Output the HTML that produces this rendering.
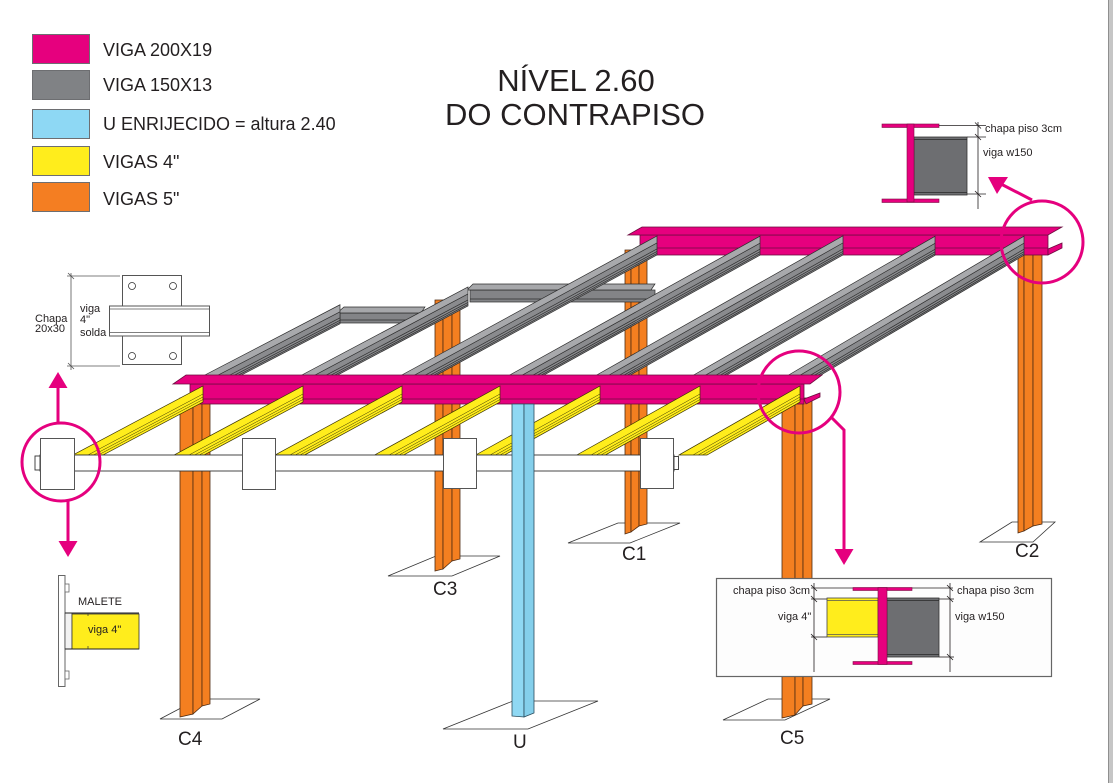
<!DOCTYPE html>
<html><head><meta charset="utf-8">
<style>
html,body{margin:0;padding:0;background:#fff;}
svg{display:block;}
text{font-family:"Liberation Sans",Arial,sans-serif;fill:#231f20;}
.ns{vector-effect:non-scaling-stroke;}
</style></head><body>
<svg width="1113" height="783" viewBox="0 0 1113 783" xmlns="http://www.w3.org/2000/svg">
<rect width="1113" height="783" fill="#fff"/>
<rect x="1108" y="0" width="5" height="783" fill="#c6c6c6"/>
<line x1="1108.5" y1="0" x2="1108.5" y2="783" stroke="#8f8f8f"/>

<!-- Legend -->
<g stroke="#6d6e71" stroke-width="1">
<rect x="32.5" y="34.5" width="57" height="29" fill="#e6007e"/>
<rect x="32.5" y="70.5" width="57" height="29" fill="#808285"/>
<rect x="32.5" y="109.5" width="57" height="29" fill="#8ed8f4"/>
<rect x="32.5" y="146.5" width="57" height="29" fill="#ffed1c"/>
<rect x="32.5" y="182.5" width="57" height="29" fill="#f47e22"/>
</g>
<g font-size="18">
<text x="103" y="56">VIGA 200X19</text>
<text x="103" y="91">VIGA 150X13</text>
<text x="103" y="130">U ENRIJECIDO = altura 2.40</text>
<text x="103" y="168">VIGAS 4&quot;</text>
<text x="103" y="205">VIGAS 5&quot;</text>
</g>

<!-- Title -->
<g font-size="31" text-anchor="middle">
<text x="576" y="91">NÍVEL 2.60</text>
<text x="575" y="125">DO CONTRAPISO</text>
</g>

<!-- Base plates -->
<g fill="#fff" stroke="#333" stroke-width="0.8">
<polygon points="160,719 222,719 260,699 198,699"/>
<polygon points="388,576 452,576 500,556 436,556"/>
<polygon points="568,543 630,543 680,523 618,523"/>
<polygon points="443,729 528,729 598,701 513,701"/>
<polygon points="723,720 785,720 830,699 768,699"/>
<polygon points="980,542 1033,542 1055,522 1012,522"/>
</g>

<!-- Rear columns C1, C2, C3 -->
<g fill="#f47f20" stroke="#4d2b12" stroke-width="0.8">
<polygon points="625,250 631,250 631,532 625,534"/>
<polygon points="631,250 639,250 639,526 631,532"/>
<polygon points="639,250 647,250 647,524 639,526"/>
<polygon points="1018,250 1024,250 1024,531 1018,533"/>
<polygon points="1024,250 1033,250 1033,526 1024,531"/>
<polygon points="1033,250 1042,250 1042,524 1033,526"/>
<polygon points="435,300 443,300 443,569 435,571"/>
<polygon points="443,300 452,300 452,561 443,569"/>
<polygon points="452,300 460,300 460,559 452,561"/>
</g>

<!-- Back pink beam -->
<g fill="#e6007e" stroke="#6b0d3f" stroke-width="0.8">
<rect x="640" y="235" width="408" height="20"/>
<line x1="640" y1="248" x2="1048" y2="248"/>
<polygon points="642,227 1062,227 1048,235 628,235"/>
<polygon points="1048,249 1062,243 1062,248 1048,255"/>
</g>

<!-- Horizontal gray beams at rear -->
<g stroke="#2d2d2d" stroke-width="0.7">
<rect x="340" y="313" width="85" height="10" fill="#838487"/>
<line x1="340" y1="320" x2="425" y2="320"/>
<polygon points="344,307 425,307 421,313 337,313" fill="#a6a7aa"/>
<rect x="470" y="290" width="185" height="12" fill="#838487"/>
<line x1="470" y1="299" x2="655" y2="299"/>
<polygon points="473,284 655,284 651,290 467,290" fill="#a6a7aa"/>
</g>

<!-- Gray diagonal beams -->
<g stroke="#2d2d2d" stroke-width="0.7">
<g transform="matrix(1,-0.52,0,1,203,376)">
 <polygon class="ns" points="0,0 137,0 137,19 36.5,19" fill="#8a8b8e" stroke="none"/>
 <polygon class="ns" points="0,0 137,0 137,7 13.5,7" fill="#a8a9ac" stroke="none"/>
 <line class="ns" x1="13.5" y1="7" x2="137" y2="7"/><line class="ns" x1="25" y1="13" x2="137" y2="13"/><line class="ns" x1="29.8" y1="15.5" x2="137" y2="15.5"/><line class="ns" x1="33.7" y1="17.5" x2="137" y2="17.5"/>
 <polygon class="ns" points="0,0 137,0 137,19 36.5,19" fill="none"/>
</g>
<g transform="matrix(1,-0.53,0,1,300,376)">
 <polygon class="ns" points="0,0 168,0 168,19 35.8,19" fill="#8a8b8e" stroke="none"/>
 <polygon class="ns" points="0,0 168,0 168,7 13.2,7" fill="#a8a9ac" stroke="none"/>
 <line class="ns" x1="13.2" y1="7" x2="168" y2="7"/><line class="ns" x1="24.5" y1="13" x2="168" y2="13"/><line class="ns" x1="29.2" y1="15.5" x2="168" y2="15.5"/><line class="ns" x1="33" y1="17.5" x2="168" y2="17.5"/>
 <polygon class="ns" points="0,0 168,0 168,19 35.8,19" fill="none"/>
</g>
<g transform="matrix(1,-0.545,0,1,400,376)">
 <polygon class="ns" points="0,0 257,0 257,19 34.9,19" fill="#8a8b8e" stroke="none"/>
 <polygon class="ns" points="0,0 257,0 257,7 12.8,7" fill="#a8a9ac" stroke="none"/>
 <line class="ns" x1="12.8" y1="7" x2="257" y2="7"/><line class="ns" x1="23.9" y1="13" x2="257" y2="13"/><line class="ns" x1="28.4" y1="15.5" x2="257" y2="15.5"/><line class="ns" x1="32.1" y1="17.5" x2="257" y2="17.5"/>
 <polygon class="ns" points="0,0 257,0 257,19 34.9,19" fill="none"/>
</g>
<g transform="matrix(1,-0.555,0,1,508,376)">
 <polygon class="ns" points="0,0 252,0 252,19 34.2,19" fill="#8a8b8e" stroke="none"/>
 <polygon class="ns" points="0,0 252,0 252,7 12.6,7" fill="#a8a9ac" stroke="none"/>
 <line class="ns" x1="12.6" y1="7" x2="252" y2="7"/><line class="ns" x1="23.4" y1="13" x2="252" y2="13"/><line class="ns" x1="27.9" y1="15.5" x2="252" y2="15.5"/><line class="ns" x1="31.5" y1="17.5" x2="252" y2="17.5"/>
 <polygon class="ns" points="0,0 252,0 252,19 34.2,19" fill="none"/>
</g>
<g transform="matrix(1,-0.565,0,1,595,376)">
 <polygon class="ns" points="0,0 248,0 248,19 33.6,19" fill="#8a8b8e" stroke="none"/>
 <polygon class="ns" points="0,0 248,0 248,7 12.4,7" fill="#a8a9ac" stroke="none"/>
 <line class="ns" x1="12.4" y1="7" x2="248" y2="7"/><line class="ns" x1="23" y1="13" x2="248" y2="13"/><line class="ns" x1="27.4" y1="15.5" x2="248" y2="15.5"/><line class="ns" x1="31" y1="17.5" x2="248" y2="17.5"/>
 <polygon class="ns" points="0,0 248,0 248,19 33.6,19" fill="none"/>
</g>
<g transform="matrix(1,-0.575,0,1,692,376)">
 <polygon class="ns" points="0,0 243,0 243,19 33,19" fill="#8a8b8e" stroke="none"/>
 <polygon class="ns" points="0,0 243,0 243,7 12.2,7" fill="#a8a9ac" stroke="none"/>
 <line class="ns" x1="12.2" y1="7" x2="243" y2="7"/><line class="ns" x1="22.6" y1="13" x2="243" y2="13"/><line class="ns" x1="27" y1="15.5" x2="243" y2="15.5"/><line class="ns" x1="30.4" y1="17.5" x2="243" y2="17.5"/>
 <polygon class="ns" points="0,0 243,0 243,19 33,19" fill="none"/>
</g>
<g transform="matrix(1,-0.59,0,1,787,376)">
 <polygon class="ns" points="0,0 237,0 237,19 32.2,19" fill="#8a8b8e" stroke="none"/>
 <polygon class="ns" points="0,0 237,0 237,7 11.9,7" fill="#a8a9ac" stroke="none"/>
 <line class="ns" x1="11.9" y1="7" x2="237" y2="7"/><line class="ns" x1="22" y1="13" x2="237" y2="13"/><line class="ns" x1="26.3" y1="15.5" x2="237" y2="15.5"/><line class="ns" x1="29.7" y1="17.5" x2="237" y2="17.5"/>
 <polygon class="ns" points="0,0 237,0 237,19 32.2,19" fill="none"/>
</g>
</g>

<!-- Front columns C4, C5 -->
<g fill="#f47f20" stroke="#4d2b12" stroke-width="0.8">
<polygon points="180,398 193,398 193,714 180,717"/>
<polygon points="193,398 202,398 202,706 193,714"/>
<polygon points="202,398 210,398 210,704 202,706"/>
<polygon points="782,398 795,398 795,715 782,718"/>
<polygon points="795,398 803,398 803,706 795,715"/>
<polygon points="803,398 812,398 812,704 803,706"/>
</g>

<!-- Front pink beam web -->
<g fill="#e6007e" stroke="#6b0d3f" stroke-width="0.8">
<rect x="190" y="384" width="614" height="20"/>
<line x1="190" y1="399" x2="804" y2="399"/>
<polygon points="804,399 820,393 820,397 806,404"/>
</g>

<!-- Yellow beams -->
<g stroke="#3a3300" stroke-width="0.7" fill="#ffed1c">
<g transform="matrix(1,-0.53,0,1,203,386)">
 <polygon class="ns" points="0,0 0,16 -100,16 -130.2,0"/>
 <line class="ns" x1="-115.1" y1="8" x2="0" y2="8" stroke-width="0.5"/><line class="ns" x1="-109.4" y1="11" x2="0" y2="11" stroke-width="0.5"/><line class="ns" x1="-104.7" y1="13.5" x2="0" y2="13.5" stroke-width="0.5"/>
</g>
<g transform="matrix(1,-0.535,0,1,303,386)">
 <polygon class="ns" points="0,0 0,16 -99.1,16 -129,0"/>
 <line class="ns" x1="-114" y1="8" x2="0" y2="8" stroke-width="0.5"/><line class="ns" x1="-108.4" y1="11" x2="0" y2="11" stroke-width="0.5"/><line class="ns" x1="-103.7" y1="13.5" x2="0" y2="13.5" stroke-width="0.5"/>
</g>
<g transform="matrix(1,-0.544,0,1,402,386)">
 <polygon class="ns" points="0,0 0,16 -97.4,16 -126.8,0"/>
 <line class="ns" x1="-112.1" y1="8" x2="0" y2="8" stroke-width="0.5"/><line class="ns" x1="-106.6" y1="11" x2="0" y2="11" stroke-width="0.5"/><line class="ns" x1="-102" y1="13.5" x2="0" y2="13.5" stroke-width="0.5"/>
</g>
<g transform="matrix(1,-0.55,0,1,500,386)">
 <polygon class="ns" points="0,0 0,16 -96.4,16 -125.5,0"/>
 <line class="ns" x1="-110.9" y1="8" x2="0" y2="8" stroke-width="0.5"/><line class="ns" x1="-105.5" y1="11" x2="0" y2="11" stroke-width="0.5"/><line class="ns" x1="-100.9" y1="13.5" x2="0" y2="13.5" stroke-width="0.5"/>
</g>
<g transform="matrix(1,-0.555,0,1,600,386)">
 <polygon class="ns" points="0,0 0,16 -95.5,16 -124.3,0"/>
 <line class="ns" x1="-109.9" y1="8" x2="0" y2="8" stroke-width="0.5"/><line class="ns" x1="-104.5" y1="11" x2="0" y2="11" stroke-width="0.5"/><line class="ns" x1="-100" y1="13.5" x2="0" y2="13.5" stroke-width="0.5"/>
</g>
<g transform="matrix(1,-0.56,0,1,700,386)">
 <polygon class="ns" points="0,0 0,16 -94.6,16 -123.2,0"/>
 <line class="ns" x1="-108.9" y1="8" x2="0" y2="8" stroke-width="0.5"/><line class="ns" x1="-103.6" y1="11" x2="0" y2="11" stroke-width="0.5"/><line class="ns" x1="-99.1" y1="13.5" x2="0" y2="13.5" stroke-width="0.5"/>
</g>
<g transform="matrix(1,-0.57,0,1,800,386)">
 <polygon class="ns" points="0,0 0,16 -93,16 -121.1,0"/>
 <line class="ns" x1="-107" y1="8" x2="0" y2="8" stroke-width="0.5"/><line class="ns" x1="-101.8" y1="11" x2="0" y2="11" stroke-width="0.5"/><line class="ns" x1="-97.4" y1="13.5" x2="0" y2="13.5" stroke-width="0.5"/>
</g>
</g>

<!-- Front beam top flange -->
<polygon points="186,375 822,375 810,384 173,384" fill="#e6007e" stroke="#6b0d3f" stroke-width="0.8"/>

<!-- White tube + brackets -->
<g fill="#fff" stroke="#333" stroke-width="0.9">
<rect x="35" y="456" width="6" height="14"/>
<rect x="40" y="455" width="634" height="16"/>
<rect x="674" y="456.5" width="4.5" height="13"/>
</g>
<g fill="#fff" stroke="#555" stroke-width="1">
<rect x="40.5" y="438.5" width="34" height="51"/>
<rect x="242.5" y="438.5" width="33" height="51"/>
<rect x="443.5" y="438.5" width="33" height="50"/>
<rect x="640.5" y="438.5" width="33" height="50"/>
</g>

<!-- U column -->
<g stroke="#2b4c5c" stroke-width="0.8">
<polygon points="512,404 524,404 524,717 512,716" fill="#8fd8f3"/>
<polygon points="524,404 534,404 534,713 524,717" fill="#84cfeb"/>
</g>

<!-- Column labels -->
<g font-size="19">
<text x="178" y="745">C4</text>
<text x="433" y="595">C3</text>
<text x="622" y="560">C1</text>
<text x="513" y="748">U</text>
<text x="780" y="744">C5</text>
<text x="1015" y="557">C2</text>
</g>

<!-- Bottom-right detail box -->
<rect x="716.5" y="578.5" width="335" height="98" fill="#fdfdfd" stroke="#666" stroke-width="1.2"/>
<g stroke="#231f20" stroke-width="0.8">
<line x1="814" y1="583" x2="814" y2="672"/>
<line x1="950" y1="583" x2="950" y2="672"/>
<line x1="811" y1="588" x2="953" y2="588"/>
<line x1="811" y1="599" x2="827" y2="599"/>
<line x1="939" y1="599" x2="954" y2="599"/>
<line x1="811" y1="637" x2="827" y2="637"/>
<line x1="939" y1="657" x2="954" y2="657"/>
<line x1="811" y1="585" x2="817" y2="591"/>
<line x1="811" y1="596" x2="817" y2="602"/>
<line x1="811" y1="634" x2="817" y2="640"/>
<line x1="947" y1="585" x2="953" y2="591"/>
<line x1="947" y1="596" x2="953" y2="602"/>
<line x1="947" y1="654" x2="953" y2="660"/>
</g>
<rect x="827" y="598" width="51" height="39" fill="#ffed1c" stroke="#444" stroke-width="0.8"/>
<line x1="827" y1="600.5" x2="878" y2="600.5" stroke="#555" stroke-width="0.7"/>
<line x1="827" y1="634.5" x2="878" y2="634.5" stroke="#555" stroke-width="0.7"/>
<rect x="887" y="598" width="52" height="59" fill="#6d6e71" stroke="#333" stroke-width="0.8"/>
<line x1="887" y1="600.5" x2="939" y2="600.5" stroke="#2a2a2a" stroke-width="0.8"/>
<line x1="887" y1="654.5" x2="939" y2="654.5" stroke="#2a2a2a" stroke-width="0.8"/>
<g fill="#e6007e" stroke="#7a0d44" stroke-width="0.6">
<rect x="853" y="587.5" width="59" height="3"/>
<rect x="853" y="661.5" width="59" height="3"/>
<rect x="878" y="587.5" width="9" height="77"/>
</g>
<g font-size="11">
<text x="733" y="594">chapa piso 3cm</text>
<text x="778" y="620">viga 4&quot;</text>
<text x="957" y="594">chapa piso 3cm</text>
<text x="955" y="620">viga w150</text>
</g>

<!-- Top-right detail -->
<rect x="914" y="137" width="53" height="58" fill="#6d6e71" stroke="#333" stroke-width="0.8"/>
<line x1="914" y1="139.5" x2="967" y2="139.5" stroke="#2a2a2a" stroke-width="0.8"/>
<line x1="914" y1="192.5" x2="967" y2="192.5" stroke="#2a2a2a" stroke-width="0.8"/>
<g fill="#e6007e" stroke="#7a0d44" stroke-width="0.6">
<rect x="882" y="124" width="57" height="3.5"/>
<rect x="882" y="199" width="57" height="3.5"/>
<rect x="907" y="124" width="7" height="78"/>
</g>
<g stroke="#231f20" stroke-width="0.8">
<line x1="978" y1="122" x2="978" y2="209"/>
<line x1="939" y1="125.5" x2="986" y2="125.5"/>
<line x1="967" y1="137" x2="986" y2="137"/>
<line x1="967" y1="194" x2="986" y2="194"/>
<line x1="975" y1="122.5" x2="981" y2="128.5"/>
<line x1="975" y1="134" x2="981" y2="140"/>
<line x1="975" y1="191" x2="981" y2="197"/>
</g>
<g font-size="11">
<text x="985" y="132">chapa piso 3cm</text>
<text x="983" y="156">viga w150</text>
</g>

<!-- Left detail (Chapa 20x30) -->
<rect x="122.5" y="275.5" width="59" height="89" fill="#fff" stroke="#555" stroke-width="1"/>
<g fill="none" stroke="#333" stroke-width="0.8">
<circle cx="132" cy="286" r="3.5"/>
<circle cx="173" cy="286" r="3.5"/>
<circle cx="132" cy="356" r="3.5"/>
<circle cx="173" cy="356" r="3.5"/>
</g>
<rect x="109.5" y="306" width="100" height="30" fill="#fff" stroke="#555" stroke-width="1"/>
<line x1="109.5" y1="309" x2="209.5" y2="309" stroke="#555" stroke-width="0.8"/>
<line x1="109.5" y1="332.5" x2="209.5" y2="332.5" stroke="#555" stroke-width="0.8"/>
<g stroke="#555" stroke-width="0.8">
<line x1="71" y1="273" x2="71" y2="370"/>
<line x1="67" y1="276" x2="120" y2="276"/>
<line x1="67" y1="366" x2="120" y2="366"/>
<line x1="68" y1="273" x2="74" y2="279"/>
<line x1="68" y1="363" x2="74" y2="369"/>
</g>
<g font-size="11" fill="#333">
<text x="35" y="322">Chapa</text>
<text x="35" y="332">20x30</text>
<text x="80" y="312">viga</text>
<text x="80" y="323">4&quot;</text>
<text x="80" y="336">solda</text>
</g>

<!-- MALETE detail -->
<rect x="58.5" y="575.5" width="6.5" height="111" fill="#fff" stroke="#666" stroke-width="1"/>
<rect x="65" y="584" width="4" height="8" fill="#fff" stroke="#666" stroke-width="0.8"/>
<rect x="65" y="671" width="4" height="8" fill="#fff" stroke="#666" stroke-width="0.8"/>
<rect x="65" y="613" width="7" height="36" fill="#f2f2f2" stroke="#444" stroke-width="0.8"/>
<rect x="72" y="614" width="67" height="35" fill="#ffed1c" stroke="#333" stroke-width="0.8"/>
<line x1="65" y1="613" x2="139" y2="613" stroke="#222" stroke-width="0.9"/>
<line x1="65" y1="649" x2="139" y2="649" stroke="#222" stroke-width="0.9"/>
<line x1="88" y1="613" x2="88" y2="616" stroke="#333" stroke-width="0.7"/>
<line x1="88" y1="646" x2="88" y2="649" stroke="#333" stroke-width="0.7"/>
<text x="78" y="605" font-size="11" fill="#333">MALETE</text>
<text x="88" y="633" font-size="11">viga 4&quot;</text>

<!-- Pink circles and arrows -->
<g fill="none" stroke="#e5007e" stroke-width="3">
<circle cx="61" cy="462" r="39"/>
<circle cx="799" cy="392" r="41"/>
<circle cx="1042" cy="242" r="41"/>
<line x1="58" y1="423" x2="58" y2="387"/>
<line x1="68" y1="500" x2="68" y2="543"/>
<polyline points="831,417 844,430 844,551"/>
<line x1="1032" y1="200" x2="1001" y2="184"/>
</g>
<g fill="#e5007e">
<polygon points="48.5,388 67.5,388 58,372"/>
<polygon points="58.5,541 77.5,541 68,557"/>
<polygon points="834.5,549 853.5,549 844,565"/>
<polygon points="988,177 1008,177 997,194"/>
</g>
</svg>
</body></html>
